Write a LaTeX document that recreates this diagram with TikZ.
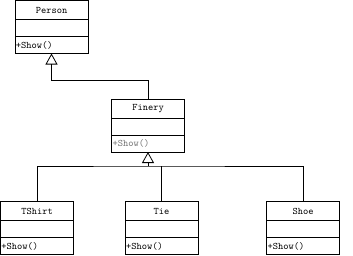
\documentclass[tikz,border=0pt]{standalone}
\usepackage{tikz}
\usetikzlibrary{arrows.meta, positioning}

\tikzset{
  classname/.style={draw, line width=0.8pt, minimum width=73pt, minimum height=19pt,
        inner sep=0pt, outer sep=0pt, font=\fontsize{10}{12}\selectfont\ttfamily},
  classattr/.style={draw, line width=0.8pt, minimum width=73pt, minimum height=17pt,
        inner sep=0pt, outer sep=0pt},
  classops/.style={draw, line width=0.8pt, minimum height=17pt, inner xsep=1pt,
        inner ysep=0pt, outer sep=0pt, text width=71pt, align=left,
        font=\fontsize{10}{12}\selectfont\ttfamily},
  inherit/.style={line width=0.8pt, -{Triangle[open, length=11pt, width=12pt]}},
  link/.style={line width=0.8pt}
}

\begin{document}
\begin{tikzpicture}[x=1pt, y=-1pt]
  \useasboundingbox (0,0) rectangle (353,255);

  % base class
  \node[classname] (person) at (51.5,10) {Person};
  \node[classattr, below=0pt of person] (person-attr) {};
  \node[classops, below=0pt of person-attr] (person-ops) {+Show()};

  % decorator
  \node[classname] (finery) at (148,108.5) {Finery};
  \node[classattr, below=0pt of finery] (finery-attr) {};
  \node[classops, below=0pt of finery-attr, text=black!55] (finery-ops) {+Show()};

  % concrete decorators
  \node[classname] (tshirt) at (37,211) {TShirt};
  \node[classattr, below=0pt of tshirt] (tshirt-attr) {};
  \node[classops, below=0pt of tshirt-attr] (tshirt-ops) {+Show()};

  \node[classname] (tie) at (161.5,211) {Tie};
  \node[classattr, below=0pt of tie] (tie-attr) {};
  \node[classops, below=0pt of tie-attr] (tie-ops) {+Show()};

  \node[classname] (shoe) at (303,211) {Shoe};
  \node[classattr, below=0pt of shoe] (shoe-attr) {};
  \node[classops, below=0pt of shoe-attr] (shoe-ops) {+Show()};

  % generalisation
  \draw[inherit] (finery.north) -- ++(0,-19) -| (person-ops.south);

  \coordinate (hub) at (finery-ops.south |- 0,166);
  \draw[inherit] (hub) -- (finery-ops.south);
  \draw[link] (tshirt.north) |- (hub) -| (shoe.north);
  \draw[link] (tie.north) -- (tie.north |- hub);
\end{tikzpicture}
\end{document}
